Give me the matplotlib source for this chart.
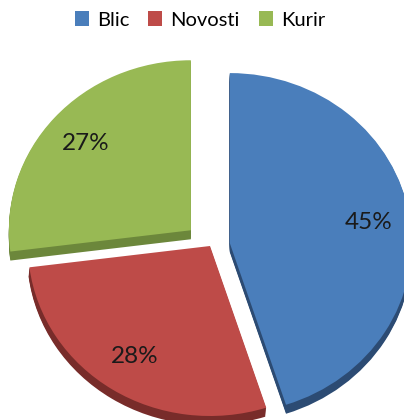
import matplotlib
matplotlib.use('Agg')
import matplotlib.pyplot as plt

categories = ['Blic', 'Novosti', 'Kurir']
values = [45, 28, 27]

colors = ['#4A7EBB', '#BE4B48', '#98B954']
side_colors = ['#2C4B73', '#782C2A', '#6C873B']

W, H = 404, 420
R = 182
k = 170 / R        # vertical squash of the tilted pie
cx, cy = 210, (H - 246) / k
explode = [0.11 * R, 0.0, 0.14 * R]

fig = plt.figure(figsize=(W / 100, H / 100), dpi=100)
ax = fig.add_axes([0, 0, 1, 1])

# 3D side (extrusion)
for d in range(1, 10):
    ws = ax.pie(values, radius=R, center=(cx, cy - d / k), explode=explode,
                startangle=90, counterclock=False, colors=side_colors,
                wedgeprops=dict(linewidth=0))[0]
    c = ws[1].center
    ws[1].set_center((c[0] - d * 0.1, c[1]))

wedges, texts, autotexts = ax.pie(
    values, radius=R, center=(cx, cy), explode=explode,
    startangle=90, counterclock=False, colors=colors,
    autopct='%1.0f%%', pctdistance=0.77,
    textprops=dict(fontsize=17.5, family='Lato', color='#1a1a1a'),
    wedgeprops=dict(linewidth=0))

ax.set_aspect('auto')
ax.set_xlim(0, W)
ax.set_ylim(0, H / k)
ax.axis('off')

fig.legend(wedges, categories, loc='center', bbox_to_anchor=(200 / W, 1 - 20 / H),
           ncol=3, frameon=False, prop={'family': 'Lato', 'size': 14.5},
           handlelength=0.7, handleheight=0.7, handletextpad=0.4,
           columnspacing=0.95, borderpad=0)

fig.savefig('out.png', dpi=100)
